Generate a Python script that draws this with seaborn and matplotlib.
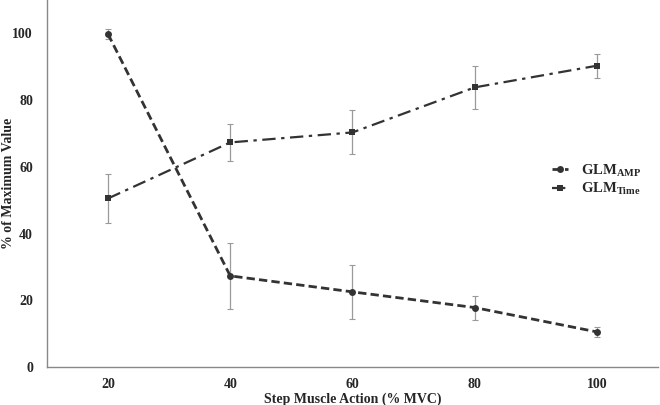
import matplotlib
matplotlib.use("Agg")
import matplotlib.pyplot as plt
import seaborn as sns
import pandas as pd

# valeurs
mvc = [20, 40, 60, 80, 100]
amp_mean = [99.8, 27.3, 22.5, 17.8, 10.5]
amp_err = [1.5, 10.0, 8.2, 3.6, 1.4]
time_mean = [50.5, 67.3, 70.3, 83.8, 90.3]
time_err = [7.3, 5.6, 6.6, 6.5, 3.6]

sns.set_style("white")
plt.rcParams['font.family'] = ['Liberation Serif', 'DejaVu Serif']
plt.rcParams['font.weight'] = 'bold'
plt.rcParams['mathtext.fontset'] = 'custom'
plt.rcParams['mathtext.rm'] = 'Liberation Serif:bold'
plt.rcParams['mathtext.it'] = 'Liberation Serif:bold'
plt.rcParams['mathtext.bf'] = 'Liberation Serif:bold'

df = pd.DataFrame({
    "mvc": mvc * 2,
    "val": amp_mean + time_mean,
    "serie": ["AMP"] * 5 + ["Time"] * 5,
})

fig = plt.figure(figsize=(6.6, 4.05), dpi=100)
ax = fig.add_axes([0.071, 0.094, 0.926, 0.906])

# barres d'erreur grises
ax.errorbar(mvc, amp_mean, yerr=amp_err, fmt='none', ecolor='#9a9a9a',
            elinewidth=0.9, capsize=2.5, capthick=0.8, zorder=1)
ax.errorbar(mvc, time_mean, yerr=time_err, fmt='none', ecolor='#9a9a9a',
            elinewidth=0.9, capsize=2.5, capthick=0.8, zorder=1)

sns.lineplot(data=df[df.serie == "AMP"], x="mvc", y="val", ax=ax,
             color='#333333', linestyle=(0, (3, 1.5)), linewidth=2,
             marker='o', markersize=5, markeredgewidth=0,
             label=r"GLM$_{\mathregular{AMP}}$", zorder=3)
sns.lineplot(data=df[df.serie == "Time"], x="mvc", y="val", ax=ax,
             color='#333333', linestyle=(0, (6, 2.5, 1.5, 2.5)), linewidth=1.6,
             marker='s', markersize=5, markeredgewidth=0,
             label=r"GLM$_{\mathregular{Time}}$", zorder=3)

ax.set_xlim(10, 110)
ax.set_ylim(0, 110)
ax.set_xticks(mvc)
ax.set_yticks([0, 20, 40, 60, 80, 100])
ax.tick_params(axis='both', labelsize=10, length=0)
ax.tick_params(axis='y', pad=10)
ax.tick_params(axis='x', pad=8)
for lab in ax.get_xticklabels() + ax.get_yticklabels():
    lab.set_fontweight('bold')

ax.set_xlabel("Step Muscle Action (% MVC)", fontsize=10, fontweight='bold', labelpad=1)
ax.set_ylabel("% of Maximum Value", fontsize=10, fontweight='bold')
ax.yaxis.set_label_coords(-0.052, 0.5)

for s in ['top', 'right']:
    ax.spines[s].set_visible(False)
for s in ['left', 'bottom']:
    ax.spines[s].set_color('#888888')
    ax.spines[s].set_linewidth(1.0)

leg = ax.legend(loc='center left', bbox_to_anchor=(0.805, 0.51), frameon=False,
                fontsize=10.5, handlelength=1.1, handletextpad=0.9, labelspacing=0.15)

fig.savefig("out.png", dpi=100)
